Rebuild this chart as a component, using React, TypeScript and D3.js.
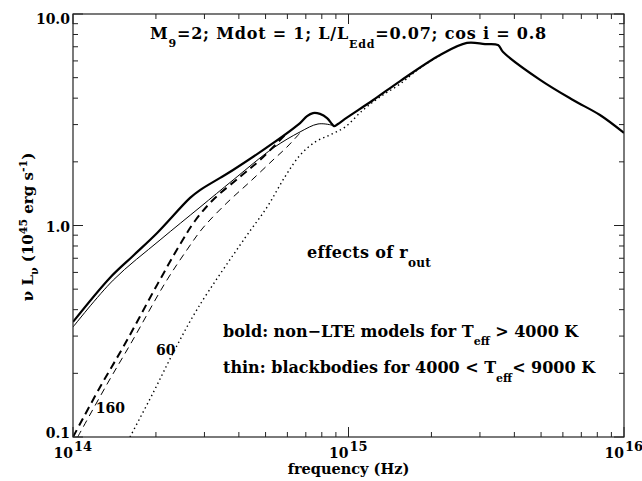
import React from "react";
import * as d3 from "d3";

const W = 642;
const H = 481;
const M = { left: 73, right: 18, top: 14, bottom: 44 };

const xDomain = [1e14, 1e16];
const yDomain = [0.1, 10];

// bold solid: non-LTE models
const boldFreq = [1.0e14, 1.36e14, 1.65e14, 2.02e14, 2.66e14, 2.89e14, 3.42e14, 3.81e14, 5.32e14, 6.67e14, 7.07e14, 7.43e14, 7.88e14, 8.36e14, 8.71e14, 8.86e14, 9.16e14, 9.71e14, 1.23e15, 1.54e15, 2.15e15, 2.69e15, 3.13e15, 3.49e15, 3.64e15, 4.96e15, 6.53e15, 8.18e15, 1.0e16];
const boldLum = [0.35, 0.565, 0.718, 0.922, 1.35, 1.47, 1.68, 1.83, 2.45, 3.05, 3.29, 3.4, 3.37, 3.22, 3.02, 2.95, 3.02, 3.19, 3.92, 4.82, 6.4, 7.3, 7.21, 7.13, 6.61, 4.88, 3.92, 3.33, 2.74];

// thin solid: blackbodies
const thinFreq = [1.0e14, 1.4e14, 2.07e14, 2.89e14, 3.81e14, 5.32e14, 6.67e14, 7.75e14, 8.71e14, 8.86e14, 9.16e14];
const thinLum = [0.331, 0.552, 0.854, 1.22, 1.64, 2.32, 2.77, 3.02, 2.98, 2.95, 3.02];

// bold dashed (r_out = 160)
const boldDashFreq = [1.0e14, 1.25e14, 1.55e14, 1.99e14, 2.44e14, 2.77e14, 3.22e14, 4.04e14, 4.77e14, 5.98e14];
const boldDashLum = [0.1, 0.171, 0.278, 0.506, 0.809, 1.05, 1.32, 1.7, 2.04, 2.74];

// thin dashed (r_out = 160)
const thinDashFreq = [1.04e14, 1.33e14, 1.64e14, 2.16e14, 2.59e14, 2.96e14, 3.62e14, 4.39e14, 5.32e14, 5.98e14, 6.67e14];
const thinDashLum = [0.1, 0.178, 0.284, 0.535, 0.766, 0.973, 1.28, 1.61, 2.04, 2.35, 2.74];

// dotted (r_out = 60)
const dotFreq = [1.61e14, 1.95e14, 2.31e14, 2.84e14, 4.21e14, 5.06e14, 5.88e14, 6.67e14, 7.56e14, 8.56e14, 9.71e14, 1.13e15, 1.3e15, 1.54e15, 1.82e15, 2.15e15];
const dotLum = [0.1, 0.161, 0.25, 0.407, 0.873, 1.22, 1.7, 2.15, 2.48, 2.68, 2.92, 3.52, 4.05, 4.67, 5.56, 6.38];

const yTickValues = [0.1, 1, 10];
const yTickLabels = ["0.1", "1.0", "10.0"];
const yLabelShift = [1, 6, 10];
const xTickExponents = [14, 15, 16];

const labelTexts = ["160", "60"];
const labelFreq = [1.21e14, 2.0e14];
const labelLum = [0.13, 0.244];

const FONT = "DejaVu Serif";

export default function App() {
  const x = d3.scaleLog().domain(xDomain).range([M.left, W - M.right]);
  const y = d3.scaleLog().domain(yDomain).range([H - M.bottom, M.top]);
  const x0 = M.left, x1 = W - M.right, y0 = H - M.bottom, y1 = M.top;

  const mk = (fs: number[], ls: number[]) => fs.map((f, i) => [f, ls[i]] as [number, number]);
  const line = d3
    .line<[number, number]>()
    .x((d) => x(d[0]))
    .y((d) => y(d[1]))
    .curve(d3.curveCatmullRom.alpha(0.5));

  const series = [
    { d: mk(dotFreq, dotLum), w: 1.4, dash: "1.4,3.2" },
    { d: mk(thinDashFreq, thinDashLum), w: 1, dash: "7,5" },
    { d: mk(boldDashFreq, boldDashLum), w: 2, dash: "8,5" },
    { d: mk(thinFreq, thinLum), w: 1, dash: undefined },
    { d: mk(boldFreq, boldLum), w: 2.2, dash: undefined },
  ];

  const xMinor: number[] = [];
  for (let e = 14; e < 16; e++) for (let k = 2; k <= 9; k++) xMinor.push(k * Math.pow(10, e));
  const yMinor: number[] = [];
  for (let e = -1; e < 1; e++) for (let k = 2; k <= 9; k++) yMinor.push(k * Math.pow(10, e));
  const majLen = 10, minLen = 5;
  const axisColor = "#222";

  return (
    <svg width={W} height={H} style={{ position: "absolute", left: 0, top: 0, background: "#fff" }} fontFamily={FONT}>
      <defs>
        <clipPath id="plot">
          <rect x={x0} y={y1} width={x1 - x0} height={y0 - y1} />
        </clipPath>
      </defs>
      <g clipPath="url(#plot)" fill="none" stroke="#000" strokeLinejoin="round">
        {series.map((s, i) => (
          <path key={i} d={line(s.d) || ""} strokeWidth={s.w} strokeDasharray={s.dash} />
        ))}
      </g>
      <rect x={x0} y={y1} width={x1 - x0} height={y0 - y1} fill="none" stroke={axisColor} strokeWidth={1.2} />
      <g stroke={axisColor} strokeWidth={1}>
        {xTickExponents.map((e) => {
          const px = x(Math.pow(10, e));
          return (
            <g key={"xm" + e}>
              <line x1={px} x2={px} y1={y0} y2={y0 - majLen} />
              <line x1={px} x2={px} y1={y1} y2={y1 + majLen} />
            </g>
          );
        })}
        {xMinor.map((v, i) => {
          const px = x(v);
          return (
            <g key={"xn" + i}>
              <line x1={px} x2={px} y1={y0} y2={y0 - minLen} />
              <line x1={px} x2={px} y1={y1} y2={y1 + minLen} />
            </g>
          );
        })}
        {yTickValues.map((v, i) => {
          const py = y(v);
          return (
            <g key={"ym" + i}>
              <line x1={x0} x2={x0 + majLen} y1={py} y2={py} />
              <line x1={x1} x2={x1 - majLen} y1={py} y2={py} />
            </g>
          );
        })}
        {yMinor.map((v, i) => {
          const py = y(v);
          return (
            <g key={"yn" + i}>
              <line x1={x0} x2={x0 + minLen} y1={py} y2={py} />
              <line x1={x1} x2={x1 - minLen} y1={py} y2={py} />
            </g>
          );
        })}
      </g>
      <g fontSize={14} fontWeight="bold" textAnchor="end">
        {yTickValues.map((v, i) => (
          <text key={i} x={x0 - 3} y={y(v) + yLabelShift[i]}>
            {yTickLabels[i]}
          </text>
        ))}
      </g>
      <g fontSize={14} fontWeight="bold">
        {xTickExponents.map((e) => {
          const px = x(Math.pow(10, e));
          return (
            <g key={e}>
              <text x={px} y={y0 + 21} textAnchor="end">10</text>
              <text x={px + 1} y={y0 + 14} fontSize={13} textAnchor="start">{e}</text>
            </g>
          );
        })}
      </g>
      <text x={(x0 + x1) / 2} y={474} fontSize={14.5} fontWeight="bold" textAnchor="middle">
        frequency (Hz)
      </text>
      <text transform="translate(33,227) rotate(-90)" fontSize={15} fontWeight="bold" textAnchor="middle">
        ν L<tspan fontSize={11} dy={5}>ν</tspan>
        <tspan dy={-5}> (10</tspan>
        <tspan fontSize={11} dy={-6}>45</tspan>
        <tspan dy={6}> erg s</tspan>
        <tspan fontSize={11} dy={-6}>-1</tspan>
        <tspan dy={6}>)</tspan>
      </text>
      <text x={150} y={39} fontSize={16} fontWeight="bold" letterSpacing={0.8}>
        M<tspan fontSize={11} dy={8}>9</tspan>
        <tspan dy={-8}>=2; Mdot = 1; L/L</tspan>
        <tspan fontSize={11} dy={9}>Edd</tspan>
        <tspan dy={-9}>=0.07; cos i = 0.8</tspan>
      </text>
      <text x={307} y={258} fontSize={16} fontWeight="bold" letterSpacing={0.3}>
        effects of r<tspan fontSize={12} dy={9}>out</tspan>
      </text>
      <text x={223} y={337} fontSize={16} fontWeight="bold">
        bold: non−LTE models for T<tspan fontSize={11} dy={8}>eff</tspan>
        <tspan dy={-8}> &gt; 4000 K</tspan>
      </text>
      <text x={223} y={373} fontSize={16} fontWeight="bold">
        thin: blackbodies for 4000 &lt; T<tspan fontSize={11} dy={9}>eff</tspan>
        <tspan dy={-9}>&lt; 9000 K</tspan>
      </text>
      {labelTexts.map((t, i) => (
        <text key={t} x={x(labelFreq[i])} y={y(labelLum[i])} fontSize={14} fontWeight="bold">
          {t}
        </text>
      ))}
    </svg>
  );
}
